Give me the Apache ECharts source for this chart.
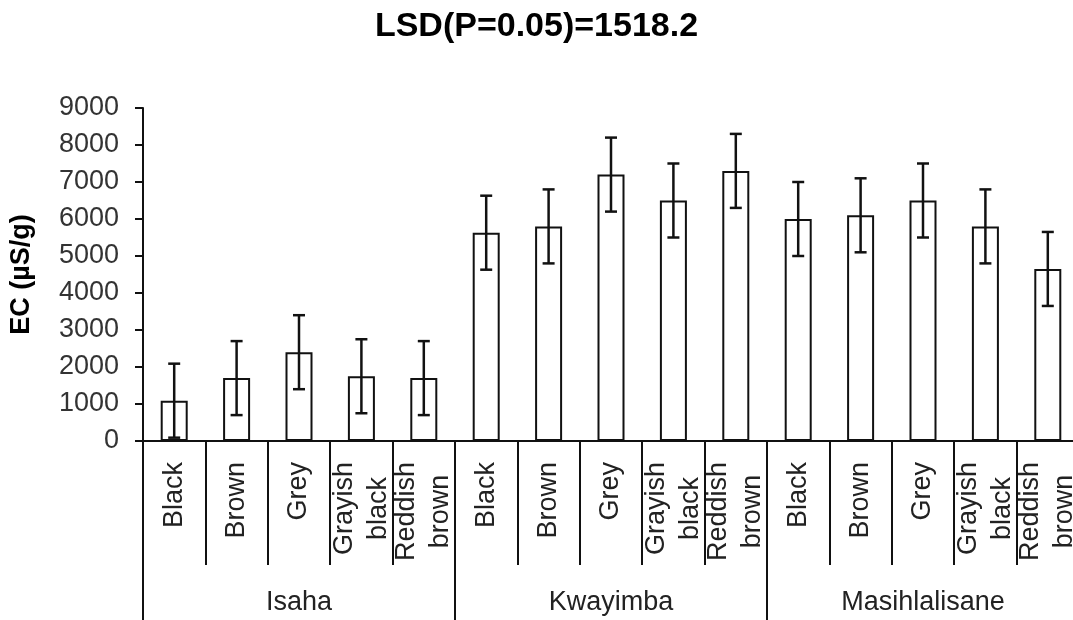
<!DOCTYPE html>
<html>
<head>
<meta charset="utf-8">
<script src="https://cdn.jsdelivr.net/npm/echarts@6/dist/echarts.min.js"></script>
<style>
  html, body { margin: 0; padding: 0; background: #ffffff; overflow: hidden; }
  #chart { width: 1073px; height: 620px; }
</style>
</head>
<body>
<div id="chart"></div>
<script>
// Soil colour classes, repeated for each site
const categories = [
  'Black', 'Brown', 'Grey', 'Grayish\nblack', 'Reddish\nbrown',
  'Black', 'Brown', 'Grey', 'Grayish\nblack', 'Reddish\nbrown',
  'Black', 'Brown', 'Grey', 'Grayish\nblack', 'Reddish\nbrown'
];
const sites = ['Isaha', 'Kwayimba', 'Masihlalisane'];

// Mean EC (µS/g) per soil colour and site
const ecMeans = [
  1090, 1700, 2400, 1750, 1700,
  5630, 5800, 7200, 6500, 7300,
  6000, 6100, 6500, 5800, 4650
];
// Half-length of each error bar (µS/g)
const ecErrors = [
  1000, 1000, 1000, 1000, 1000,
  1000, 1000, 1000, 1000, 1000,
  1000, 1000, 1000, 1000, 1000
];
const yTicks = { min: 0, max: 9000, interval: 1000 };
const titleText = 'LSD(P=0.05)=1518.2';
const yName = 'EC (µS/g)';

const FONT = '"Liberation Sans", Arial, sans-serif';
const INK = '#111';

const errorData = ecMeans.map((m, i) => [i, m - ecErrors[i], m + ecErrors[i]]);

const chart = echarts.init(document.getElementById('chart'), null, { renderer: 'canvas' });

chart.setOption({
  backgroundColor: '#ffffff',
  animation: false,
  title: {
    text: titleText,
    left: 'center',
    top: 5,
    textStyle: { fontFamily: FONT, fontSize: 34, fontWeight: 'bold', color: '#000' }
  },
  // the last site's band runs slightly past the right edge of the canvas
  grid: { left: 143, top: 108, width: 936, height: 333, containLabel: false, outerBoundsMode: 'none' },
  xAxis: [
    {
      type: 'category',
      position: 'bottom',
      data: categories,
      axisLine: { show: true, lineStyle: { color: INK, width: 2 } },
      axisTick: { show: true, interval: 0, length: 124, lineStyle: { color: INK, width: 2 } },
      axisLabel: {
        interval: 0,
        rotate: 90,
        margin: 21,
        color: '#222',
        fontFamily: FONT,
        fontSize: 27,
        formatter: v => v.split('\n').map(s => '{c|' + s + '}').join('\n'),
        rich: {
          c: { align: 'center', fontFamily: FONT, fontSize: 27, lineHeight: 34, color: '#222' }
        }
      },
      splitLine: { show: false }
    },
    {
      type: 'category',
      position: 'bottom',
      offset: 0,
      data: sites,
      axisLine: { show: false },
      axisTick: { show: true, interval: 0, length: 179, lineStyle: { color: INK, width: 2 } },
      axisLabel: {
        interval: 0,
        margin: 148,
        color: '#222',
        fontFamily: FONT,
        fontSize: 27
      },
      splitLine: { show: false }
    }
  ],
  yAxis: {
    type: 'value',
    min: yTicks.min,
    max: yTicks.max,
    interval: yTicks.interval,
    name: yName,
    nameLocation: 'middle',
    nameGap: 108,
    nameTextStyle: { fontFamily: FONT, fontSize: 27, fontWeight: 'bold', color: '#000' },
    axisLine: { show: true, lineStyle: { color: INK, width: 2 } },
    axisTick: { show: true, length: 8, inside: false, lineStyle: { color: INK, width: 2 } },
    axisLabel: {
      margin: 24, color: '#333', fontFamily: FONT, fontSize: 27,
      formatter: v => String(v)
    },
    splitLine: { show: false }
  },
  series: [
    {
      type: 'bar',
      xAxisIndex: 0,
      data: ecMeans,
      barWidth: 27,
      itemStyle: { color: '#ffffff', borderColor: INK, borderWidth: 2 },
      z: 2
    },
    {
      type: 'custom',
      xAxisIndex: 0,
      data: errorData,
      z: 3,
      renderItem: function (params, api) {
        const x = api.value(0);
        const lo = api.coord([x, api.value(1)]);
        const hi = api.coord([x, api.value(2)]);
        const half = 6;
        const st = { stroke: INK, lineWidth: 2.5 };
        return {
          type: 'group',
          children: [
            { type: 'line', shape: { x1: lo[0], y1: lo[1], x2: hi[0], y2: hi[1] }, style: st },
            { type: 'line', shape: { x1: hi[0] - half, y1: hi[1], x2: hi[0] + half, y2: hi[1] }, style: st },
            { type: 'line', shape: { x1: lo[0] - half, y1: lo[1], x2: lo[0] + half, y2: lo[1] }, style: st }
          ]
        };
      }
    }
  ]
});
</script>
</body>
</html>
